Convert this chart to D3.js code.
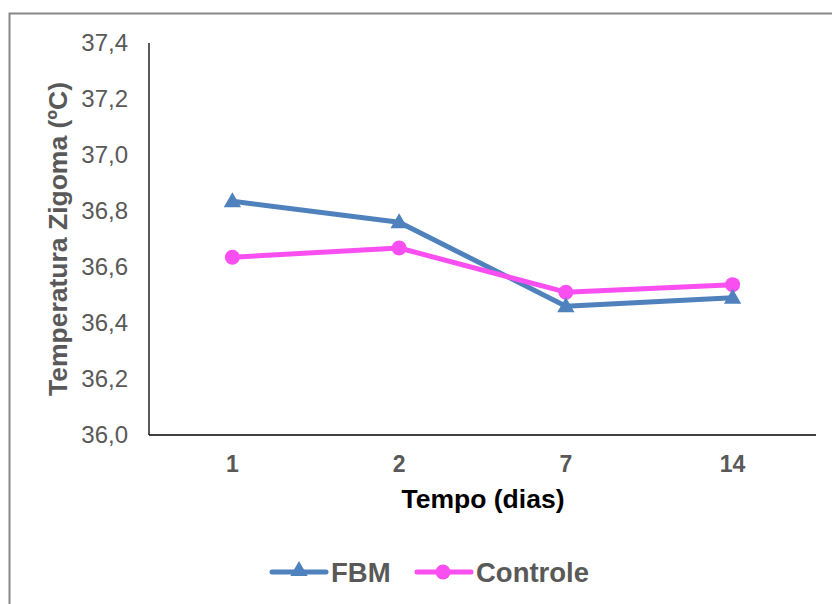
<!DOCTYPE html>
<html><head><meta charset="utf-8">
<script src="https://cdn.jsdelivr.net/npm/d3@7"></script>
<style>body{margin:0;background:#fff}svg{display:block}text{font-family:"Liberation Sans",Arial,sans-serif}</style>
</head><body><svg id="c" width="832" height="604"></svg>
<script>
const categories = ["1","2","7","14"];
const fbm = [36.835, 36.76, 36.46, 36.49];
const controle = [36.635, 36.668, 36.51, 36.537];
const yTicks = [36.0,36.2,36.4,36.6,36.8,37.0,37.2,37.4];
const seriesNames = ["FBM","Controle"];
const colors = ["#4F81BD","#F94FF0"];

const svg = d3.select("#c");
svg.append("rect").attr("x",9.5).attr("y",13.5).attr("width",840).attr("height",620)
  .attr("fill","none").attr("stroke","#878787").attr("stroke-width",2);

const L=149, R=816, T=43, B=435;
const x = d3.scaleBand().domain(categories).range([L,R]);
const y = d3.scaleLinear().domain([36.0,37.4]).range([B,T]);

svg.append("line").attr("x1",L).attr("x2",L).attr("y1",T).attr("y2",B).attr("stroke","#000").attr("stroke-width",1.3);
svg.append("line").attr("x1",L).attr("x2",R).attr("y1",B).attr("y2",B).attr("stroke","#000").attr("stroke-width",1.3);
svg.selectAll(".yt").data(yTicks).enter().append("text")
  .attr("x",L-21).attr("y",d=>y(d)).attr("dy","0.35em").attr("text-anchor","end")
  .attr("fill","#595959").style("font-size","24px")
  .text(d=>d.toFixed(1).replace(".",","));
svg.selectAll(".xt").data(categories).enter().append("text")
  .attr("x",d=>x(d)+x.bandwidth()/2).attr("y",472).attr("text-anchor","middle")
  .attr("fill","#595959").style("font-size","23px").style("font-weight","bold")
  .text(d=>d);
svg.append("text").attr("x",483).attr("y",508).attr("text-anchor","middle")
  .style("font-size","26.5px").style("font-weight","bold").attr("fill","#000").text("Tempo (dias)");
svg.append("text").attr("transform","translate(67,239) rotate(-90)").attr("text-anchor","middle")
  .style("font-size","26.5px").style("font-weight","bold").attr("fill","#595959").text("Temperatura Zigoma (ºC)");

const line = d3.line().x((d,i)=>x(categories[i])+x.bandwidth()/2).y(d=>y(d));
const tri = d3.symbol().type(d3.symbolTriangle).size(130);
[fbm,controle].forEach((s,k)=>{
  svg.append("path").datum(s).attr("d",line).attr("fill","none").attr("stroke",colors[k]).attr("stroke-width",5).attr("stroke-linejoin","round");
});
svg.selectAll(".cp").data(controle).enter().append("circle")
  .attr("cx",(d,i)=>x(categories[i])+x.bandwidth()/2).attr("cy",d=>y(d)).attr("r",7.5).attr("fill",colors[1]);
svg.selectAll(".tp").data(fbm).enter().append("path")
  .attr("d",tri).attr("transform",(d,i)=>`translate(${x(categories[i])+x.bandwidth()/2},${y(d)+1})`).attr("fill",colors[0]);

const lg = [{x:272,name:seriesNames[0],c:colors[0],m:"tri"},{x:417,name:seriesNames[1],c:colors[1],m:"circ"}];
lg.forEach(o=>{
  svg.append("line").attr("x1",o.x).attr("x2",o.x+54).attr("y1",572).attr("y2",572).attr("stroke",o.c).attr("stroke-width",5).attr("stroke-linecap","round");
  if(o.m==="tri") svg.append("path").attr("d",tri).attr("transform",`translate(${o.x+27},571)`).attr("fill",o.c);
  else svg.append("circle").attr("cx",o.x+26).attr("cy",572).attr("r",7.5).attr("fill",o.c);
  svg.append("text").attr("x",o.x+59).attr("y",572).attr("dy","0.35em").style("font-size","27.5px").style("font-weight","bold").attr("fill","#595959").text(o.name);
});
</script></body></html>
